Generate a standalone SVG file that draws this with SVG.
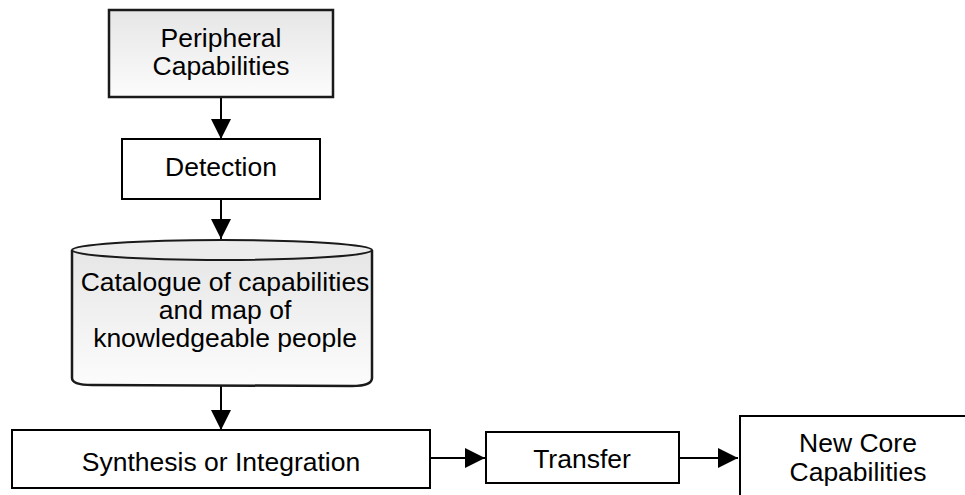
<svg xmlns="http://www.w3.org/2000/svg" width="965" height="495" viewBox="0 0 965 495">
  <defs>
    <linearGradient id="shade" x1="0" y1="0" x2="0" y2="1">
      <stop offset="0" stop-color="#e6e6e6"/>
      <stop offset="1" stop-color="#fcfcfc"/>
    </linearGradient>
    <marker id="head" viewBox="0 0 20 20" refX="20" refY="10" markerWidth="20" markerHeight="20" markerUnits="userSpaceOnUse" orient="auto">
      <path d="M0,0 L20,10 L0,20 Z" fill="#000"/>
    </marker>
  </defs>
  <style>
    .box { fill: #fff; stroke: #000; stroke-width: 2; }
    .shaded { fill: url(#shade); stroke: #1a1a1a; stroke-width: 2.5; }
    .lbl { font-family: "Liberation Sans", Arial, sans-serif; font-size: 26.5px; fill: #000; text-anchor: middle; }
    .edge { stroke: #000; stroke-width: 2; fill: none; marker-end: url(#head); }
  </style>
  <rect width="965" height="495" fill="#fff"/>

  <g id="connectors">
    <line class="edge" x1="221" y1="97" x2="221" y2="139"/>
    <line class="edge" x1="221" y1="199" x2="221" y2="239"/>
    <line class="edge" x1="221" y1="386" x2="221" y2="430"/>
    <line class="edge" x1="430" y1="458" x2="485" y2="458"/>
    <line class="edge" x1="679" y1="458" x2="738" y2="458"/>
  </g>

  <g id="peripheral">
    <rect class="shaded" x="109" y="10" width="224" height="87"/>
    <text class="lbl" x="221" y="47">Peripheral</text>
    <text class="lbl" x="221" y="75">Capabilities</text>
  </g>

  <g id="detection">
    <rect class="box" x="122" y="139" width="198" height="60"/>
    <text class="lbl" x="221" y="176">Detection</text>
  </g>

  <g id="catalogue">
    <path class="shaded" d="M72,250 V378 Q72,385 92,385 L352,386 Q372,386 372,378 V250"/>
    <ellipse cx="222" cy="250" rx="150" ry="10" fill="#ececec" stroke="#1a1a1a" stroke-width="2"/>
    <text class="lbl" x="225" y="291">Catalogue of capabilities</text>
    <text class="lbl" x="225" y="319">and map of</text>
    <text class="lbl" x="225" y="347">knowledgeable people</text>
  </g>

  <g id="synthesis">
    <rect class="box" x="12" y="430" width="418" height="58"/>
    <text class="lbl" x="221" y="471">Synthesis or Integration</text>
  </g>

  <g id="transfer">
    <rect class="box" x="486" y="432" width="193" height="51"/>
    <text class="lbl" x="582" y="468">Transfer</text>
  </g>

  <g id="new-core">
    <rect class="box" x="740" y="416" width="240" height="100"/>
    <text class="lbl" x="858" y="452">New Core</text>
    <text class="lbl" x="858" y="481">Capabilities</text>
  </g>
</svg>
